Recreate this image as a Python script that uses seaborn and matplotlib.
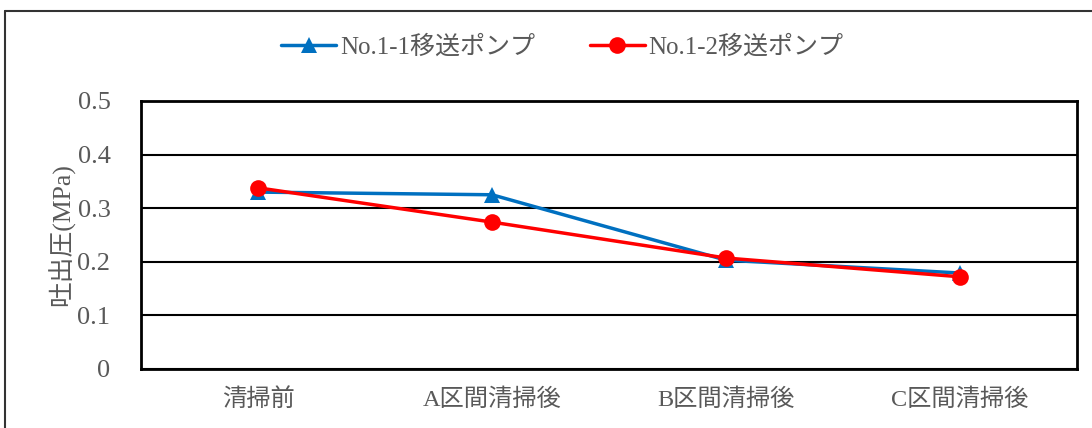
import pandas as pd
import seaborn as sns
import matplotlib.pyplot as plt
from matplotlib.lines import Line2D

# data
stages = ['清掃前', 'A区間清掃後', 'B区間清掃後', 'C区間清掃後']
pump1 = [0.330, 0.325, 0.203, 0.179]
pump2 = [0.338, 0.274, 0.207, 0.172]
names = ['No.1-1移送ポンプ', 'No.1-2移送ポンプ']

sns.set_style('white')
plt.rcParams['font.family'] = ['Liberation Serif', 'Noto Sans CJK JP', 'DejaVu Sans']

fig = plt.figure(figsize=(10.92, 4.28), dpi=100)
ax = fig.add_axes([0.1291, 0.1379, 0.8572, 0.6262])

x = list(range(len(stages)))
sns.lineplot(x=x, y=pump1, ax=ax, color='#0070C0', lw=2.5, marker='^',
             markersize=11, markeredgewidth=0, label=names[0], sort=False)
sns.lineplot(x=x, y=pump2, ax=ax, color='#FF0000', lw=2.5, marker='o',
             markersize=12, markeredgewidth=0, label=names[1], sort=False)

ax.set_xlim(-0.5, 3.5)
ax.set_ylim(0, 0.5)
ax.set_xticks(x)
ax.set_xticklabels(stages)
ax.set_yticks([0, 0.1, 0.2, 0.3, 0.4, 0.5])
ax.set_yticklabels(['0', '0.1', '0.2', '0.3', '0.4', '0.5'])
ax.tick_params(axis='x', direction='in', length=5, width=1.5, colors='black',
               labelcolor='#595959', labelsize=17.5, pad=14)
ax.tick_params(axis='y', length=0, labelcolor='#595959', labelsize=19, pad=22)
ax.yaxis.grid(True, color='black', lw=1.5)
ax.set_axisbelow(True)
for s in ax.spines.values():
    s.set_color('black')
    s.set_linewidth(2)
ax.set_xlabel('')
ax.set_ylabel('吐出圧(MPa)', color='#595959', fontsize=18.5, labelpad=2)

ax.legend(loc='center', bbox_to_anchor=(0.515, 0.89), bbox_transform=fig.transFigure,
          ncol=2, frameon=False, fontsize=18, labelcolor='#595959',
          handlelength=2.2, columnspacing=2.2, handletextpad=0.15)

# outer chart-area frame
fig.add_artist(Line2D([0.005, 1.0], [0.974, 0.974], color='#333333', lw=1.5))
fig.add_artist(Line2D([0.005, 0.005], [0.0, 0.974], color='#333333', lw=1.5))

fig.savefig('out.png', dpi=100)
